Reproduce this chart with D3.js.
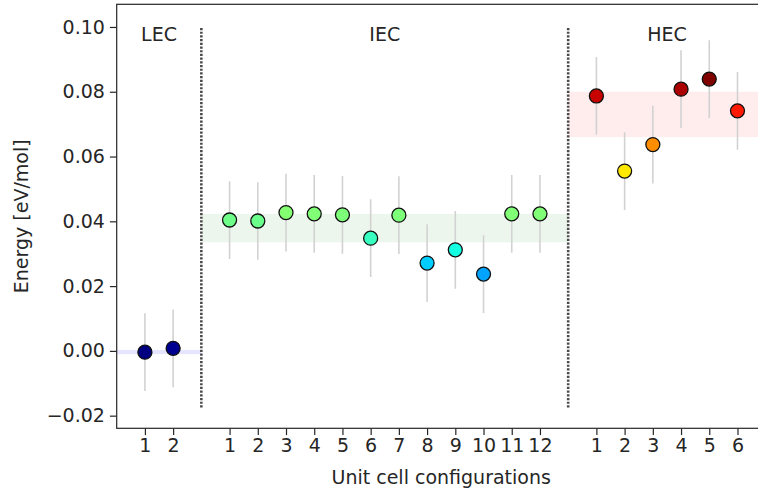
<!DOCTYPE html>
<html>
<head>
<meta charset="utf-8">
<script src="https://cdn.jsdelivr.net/npm/d3@7"></script>
<style>
  html, body { margin: 0; padding: 0; background: #fff; }
  svg { display: block; }
  text { font-family: "DejaVu Sans", sans-serif; fill: #262626; }
</style>
</head>
<body>
<svg id="chart" width="758" height="493"></svg>
<script>
// Group names and tick labels
const groupNames = ["LEC", "IEC", "HEC"];
const lecLabels = ["1", "2"];
const iecLabels = ["1", "2", "3", "4", "5", "6", "7", "8", "9", "10", "11", "12"];
const hecLabels = ["1", "2", "3", "4", "5", "6"];

// Energies (eV/mol) and their uncertainties per configuration
const lecEnergy = [-0.0004, 0.0008];
const iecEnergy = [0.0404, 0.0401, 0.0427, 0.0423, 0.0420, 0.0348, 0.0419, 0.0271, 0.0312, 0.0237, 0.0423, 0.0423];
const hecEnergy = [0.0787, 0.0555, 0.0637, 0.0808, 0.0839, 0.0741];
const lecError = [0.012, 0.012];
const iecError = [0.012, 0.012, 0.012, 0.012, 0.012, 0.012, 0.012, 0.012, 0.012, 0.012, 0.012, 0.012];
const hecError = [0.012, 0.012, 0.012, 0.012, 0.012, 0.012];

// Shaded energy range of each group [low, high]
const lecBand = [-0.001, 0.0003];
const iecBand = [0.0335, 0.0423];
const hecBand = [0.066, 0.080];

const yTicks = [-0.02, 0.00, 0.02, 0.04, 0.06, 0.08, 0.10];
const separatorRange = [-0.0175, 0.10];
const groupLabelY = 0.0958;

// Slot layout: one empty slot between groups
const lecStart = 0;
const iecStart = lecStart + lecLabels.length + 1;
const hecStart = iecStart + iecLabels.length + 1;

const groups = [
  { name: groupNames[0], labels: lecLabels, energy: lecEnergy, error: lecError, band: lecBand, start: lecStart, bandColor: "#0000ff", bandOpacity: 0.1 },
  { name: groupNames[1], labels: iecLabels, energy: iecEnergy, error: iecError, band: iecBand, start: iecStart, bandColor: "#008000", bandOpacity: 0.07 },
  { name: groupNames[2], labels: hecLabels, energy: hecEnergy, error: hecError, band: hecBand, start: hecStart, bandColor: "#ff0000", bandOpacity: 0.07 }
];

const points = [];
groups.forEach(g => g.energy.forEach((e, i) => points.push({ pos: g.start + i, e, err: g.error[i], label: g.labels[i] })));

const svg = d3.select("#chart");
const plotLeft = 116.7, plotRight = 765.7, plotTop = 4.3, plotBottom = 428.3;

const x = d3.scaleLinear().domain([-1, hecStart + hecLabels.length]).range([plotLeft, plotRight]);
const y = d3.scaleLinear().domain([-0.0239, 0.1070]).range([plotBottom, plotTop]);

// Jet colormap (piecewise-linear channels) for marker colours
const allE = points.map(p => p.e);
const eMin = d3.min(allE), eMax = d3.max(allE);
const jetR = d3.scaleLinear().domain([0, 0.35, 0.66, 0.89, 1]).range([0, 0, 1, 1, 0.5]).clamp(true);
const jetG = d3.scaleLinear().domain([0, 0.125, 0.375, 0.64, 0.91, 1]).range([0, 0, 1, 1, 0, 0]).clamp(true);
const jetB = d3.scaleLinear().domain([0, 0.11, 0.34, 0.65, 1]).range([0.5, 1, 1, 0, 0]).clamp(true);
function jet(v) {
  const t = (v - eMin) / (eMax - eMin);
  return d3.rgb(jetR(t) * 255, jetG(t) * 255, jetB(t) * 255).toString();
}

svg.append("clipPath").attr("id", "plotClip")
  .append("rect").attr("x", plotLeft).attr("y", plotTop).attr("width", plotRight - plotLeft).attr("height", plotBottom - plotTop);

const plot = svg.append("g").attr("clip-path", "url(#plotClip)");

// Shaded bands
const bandEdges = [x.domain()[0], iecStart - 1, hecStart - 1, x.domain()[1]];
plot.selectAll("rect.band").data(groups).join("rect")
  .attr("class", "band")
  .attr("x", (d, i) => x(bandEdges[i]))
  .attr("width", (d, i) => x(bandEdges[i + 1]) - x(bandEdges[i]))
  .attr("y", d => y(d.band[1]))
  .attr("height", d => y(d.band[0]) - y(d.band[1]))
  .attr("fill", d => d.bandColor)
  .attr("fill-opacity", d => d.bandOpacity);

// Dotted group separators
plot.selectAll("line.sep").data([iecStart - 1, hecStart - 1]).join("line")
  .attr("class", "sep")
  .attr("x1", d => x(d)).attr("x2", d => x(d))
  .attr("y1", y(separatorRange[0])).attr("y2", y(separatorRange[1]))
  .attr("stroke", "#4a4a4a").attr("stroke-width", 2.6)
  .attr("stroke-dasharray", "2.2,1.5");

// Error bars
plot.selectAll("line.err").data(points).join("line")
  .attr("class", "err")
  .attr("x1", d => x(d.pos)).attr("x2", d => x(d.pos))
  .attr("y1", d => y(d.e - d.err)).attr("y2", d => y(d.e + d.err))
  .attr("stroke", "#d2d2d2").attr("stroke-width", 1.6);

// Markers
plot.selectAll("circle.pt").data(points).join("circle")
  .attr("class", "pt")
  .attr("cx", d => x(d.pos)).attr("cy", d => y(d.e))
  .attr("r", 7)
  .attr("fill", d => jet(d.e))
  .attr("stroke", "#111").attr("stroke-width", 1.3);

// Group titles
svg.selectAll("text.group").data(groups).join("text")
  .attr("class", "group")
  .attr("x", d => x(d.start + (d.labels.length - 1) / 2))
  .attr("y", y(groupLabelY))
  .attr("text-anchor", "middle")
  .attr("font-size", 19)
  .text(d => d.name);

// Axes
const fmt = d3.format(".2f");
const yAxis = d3.axisLeft(y).tickValues(yTicks).tickFormat(fmt).tickSize(6.8).tickPadding(5);
const gy = svg.append("g").attr("transform", `translate(${plotLeft},0)`).call(yAxis);

const xAxis = d3.axisBottom(x)
  .tickValues(points.map(p => p.pos))
  .tickFormat(v => points.find(p => p.pos === v).label)
  .tickSize(6.8).tickPadding(3);
const gx = svg.append("g").attr("transform", `translate(0,${plotBottom})`).call(xAxis);

[gx, gy].forEach(g => {
  g.select(".domain").remove();
  g.selectAll(".tick line").attr("stroke", "#262626").attr("stroke-width", 1.2);
  g.selectAll(".tick text").attr("font-size", 19).attr("font-family", "DejaVu Sans").attr("fill", "#262626");
});

// Frame
svg.append("rect")
  .attr("x", plotLeft).attr("y", plotTop)
  .attr("width", plotRight - plotLeft).attr("height", plotBottom - plotTop)
  .attr("fill", "none").attr("stroke", "#262626").attr("stroke-width", 1.2);

// Axis titles
svg.append("text")
  .attr("x", (plotLeft + plotRight) / 2).attr("y", 484)
  .attr("text-anchor", "middle").attr("font-size", 19)
  .text("Unit cell configurations");

svg.append("text")
  .attr("transform", `translate(28,${(plotTop + plotBottom) / 2}) rotate(-90)`)
  .attr("text-anchor", "middle").attr("font-size", 19)
  .text("Energy [eV/mol]");
</script>
</body>
</html>
